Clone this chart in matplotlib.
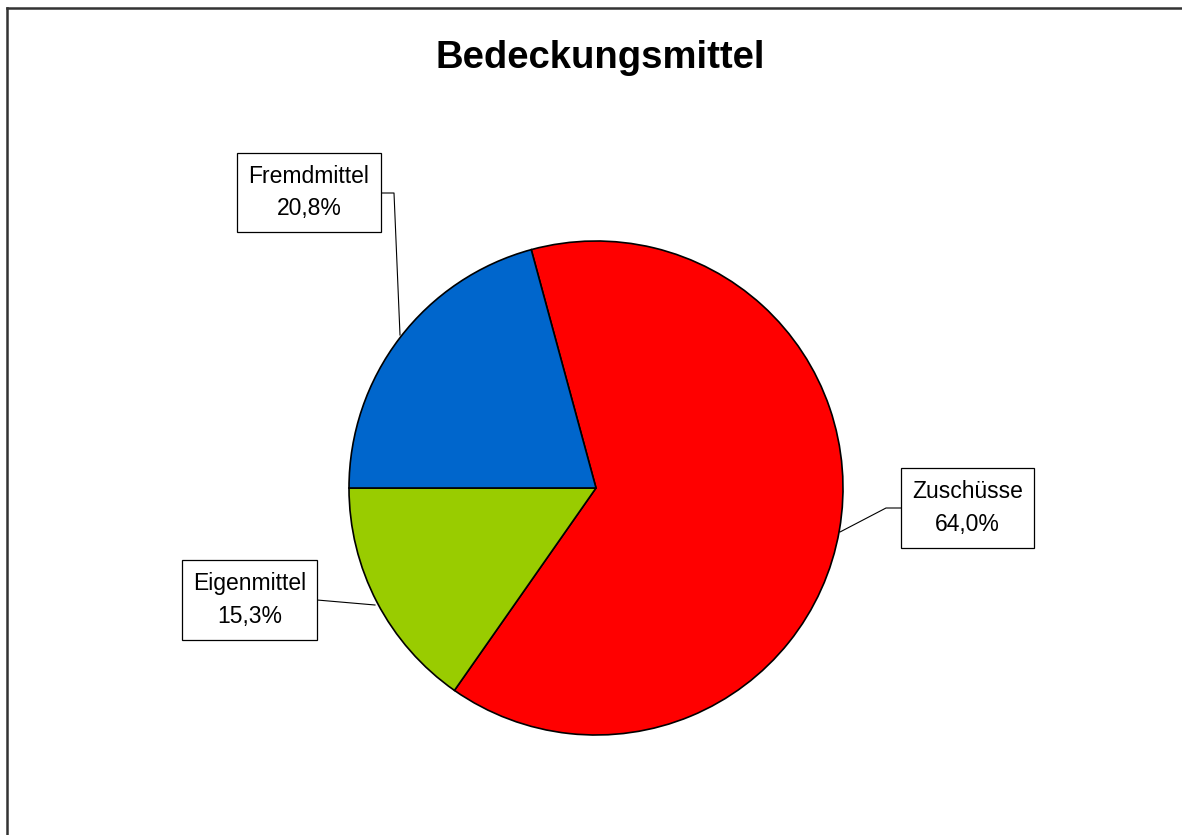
import matplotlib.pyplot as plt
from matplotlib.lines import Line2D
from matplotlib.patches import Rectangle

plt.rcParams['font.family'] = ['Liberation Sans', 'DejaVu Sans']

# Anteile der Bedeckungsmittel (im Uhrzeigersinn ab oben)
labels = ["Zuschüsse", "Eigenmittel", "Fremdmittel"]
shares = [64.0, 15.3, 20.8]
colors = ["#ff0000", "#99cc00", "#0066cc"]

W, H = 1182, 835
fig = plt.figure(figsize=(W / 100, H / 100), dpi=100)
ax = fig.add_axes([0, 0, 1, 1])

# Kuchen
cx, cy, r = 596, H - 488, 247
ax.pie(shares, colors=colors, startangle=105.2, counterclock=False,
       center=(cx, cy), radius=r, frame=True,
       wedgeprops=dict(edgecolor='black', linewidth=1.2))
ax.set_xlim(0, W)
ax.set_ylim(0, H)
ax.set_aspect('equal')
ax.axis('off')

ax.text(W / 2 + 9, H - 58, "Bedeckungsmittel", ha='center', va='center',
        fontsize=27.5, fontweight='bold')

# Beschriftungen mit Rahmen (links, oben, breite, höhe in Pixeln)
boxes = {
    "Zuschüsse": (901, 468, 133, 80),
    "Eigenmittel": (182, 560, 135, 80),
    "Fremdmittel": (237, 153, 144, 79),
}
for lab, val in zip(labels, shares):
    x0, y0, bw, bh = boxes[lab]
    ax.add_patch(Rectangle((x0, H - y0 - bh), bw, bh, facecolor='white',
                           edgecolor='black', linewidth=0.9, zorder=3))
    txt = f"{lab}\n{val:.1f}%".replace(".", ",")
    ax.text(x0 + bw / 2, H - y0 - bh / 2, txt, ha='center', va='center',
            fontsize=16.5, linespacing=1.55, zorder=4)

# Führungslinien
ax.plot([901, 886, 840], [H - 508, H - 508, H - 532], color='black', lw=0.8)
ax.plot([317, 375], [H - 600, H - 605], color='black', lw=0.8)
ax.plot([381, 394, 400], [H - 193, H - 193, H - 335], color='black', lw=0.8)

# Rahmen oben und links
fig.add_artist(Line2D([7 / W, 1], [1 - 8 / H, 1 - 8 / H], transform=fig.transFigure,
                      color='#333333', lw=1.8))
fig.add_artist(Line2D([7 / W, 7 / W], [0, 1 - 8 / H], transform=fig.transFigure,
                      color='#333333', lw=1.8))

fig.savefig("out.png", dpi=100)
